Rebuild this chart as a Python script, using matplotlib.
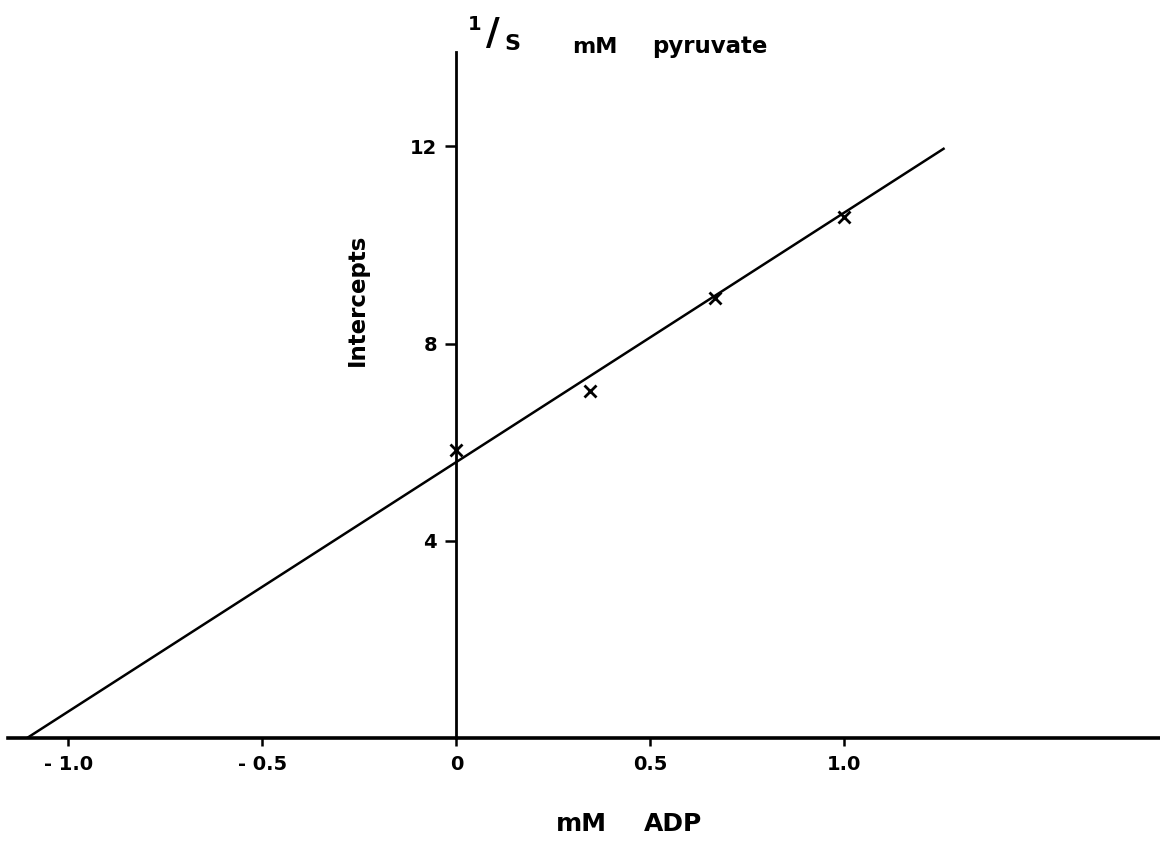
import numpy as np
import matplotlib
matplotlib.use("Agg")
import matplotlib.pyplot as plt

# Secondary plot: intercepts of the 1/v vs 1/[pyruvate] plots against ADP
adp_mM = [0.0, 0.345, 0.665, 1.0]
intercepts = [5.85, 7.03, 8.93, 10.56]

# Drawn straight line through the points
fit_slope = 5.06
fit_intercept = 5.6
fit_x_end = 1.258

x_ticks = [-1.0, -0.5, 0.0, 0.5, 1.0]
x_tick_labels = ["- 1.0", "- 0.5", "0", "0.5", "1.0"]
y_ticks = [4, 8, 12]
y_tick_labels = ["4", "8", "12"]

W, H = 1160, 841
fig = plt.figure(figsize=(W / 100, H / 100), dpi=100)
fig.patch.set_facecolor("white")

x0_px, unit_x = 456.5, 388.0
y0_px, unit_y = 738.0, 49.3
ax_left_px, ax_right_px, ax_top_px = 8.0, 1160.0, 52.0

ax = fig.add_axes([ax_left_px / W, 1 - y0_px / H,
                   (ax_right_px - ax_left_px) / W, (y0_px - ax_top_px) / H])
ax.set_xlim((ax_left_px - x0_px) / unit_x, (ax_right_px - x0_px) / unit_x)
ax.set_ylim(0, (y0_px - ax_top_px) / unit_y)
ax.patch.set_alpha(0)

for s in ("top", "right"):
    ax.spines[s].set_visible(False)
ax.spines["left"].set_position(("data", 0))
ax.spines["bottom"].set_position(("data", 0))
ax.spines["left"].set_linewidth(2.0)
ax.spines["bottom"].set_linewidth(2.6)

tick_font = dict(family="DejaVu Sans", weight="bold", size=14)
ax.set_xticks(x_ticks)
ax.set_xticklabels(x_tick_labels, fontdict=tick_font)
ax.set_yticks(y_ticks)
ax.set_yticklabels(y_tick_labels, fontdict=tick_font)
ax.tick_params(axis="x", direction="out", length=6, width=1.8, pad=6)
ax.tick_params(axis="y", direction="out", length=8, width=1.8, pad=6)

# Fitted line from the x-intercept up to the right end
x_start = -fit_intercept / fit_slope
xs = np.array([x_start, fit_x_end])
ax.plot(xs, fit_intercept + fit_slope * xs, color="black", lw=1.8,
        solid_capstyle="butt", clip_on=False)

ax.plot(adp_mM, intercepts, linestyle="none", marker="x", color="black",
        markersize=8, markeredgewidth=2.0, clip_on=False)

label_font = dict(family="DejaVu Sans", weight="bold", color="black")

# Axis captions
fig.text(357 / W, 1 - 300 / H, "Intercepts", rotation=90, ha="center",
         va="center", fontsize=16.5, **label_font)
fig.text(475 / W, 1 - 24 / H, "1", ha="center", va="center", fontsize=14,
         family="DejaVu Sans", weight="semibold", color="black")
fig.text(493 / W, 1 - 34 / H, "/", ha="center", va="center", fontsize=27,
         family="DejaVu Sans", weight="semibold", color="black")
fig.text(512 / W, 1 - 44 / H, "S", ha="center", va="center", fontsize=16,
         **label_font)
fig.text(595 / W, 1 - 53 / H, "mM", ha="center", va="baseline", fontsize=16,
         **label_font)
fig.text(710 / W, 1 - 53 / H, "pyruvate", ha="center", va="baseline",
         fontsize=16.5, **label_font)
fig.text(581 / W, 1 - 831 / H, "mM", ha="center", va="baseline", fontsize=18,
         **label_font)
fig.text(673 / W, 1 - 831 / H, "ADP", ha="center", va="baseline", fontsize=18,
         **label_font)

fig.savefig("out.png", dpi=100, facecolor="white")
